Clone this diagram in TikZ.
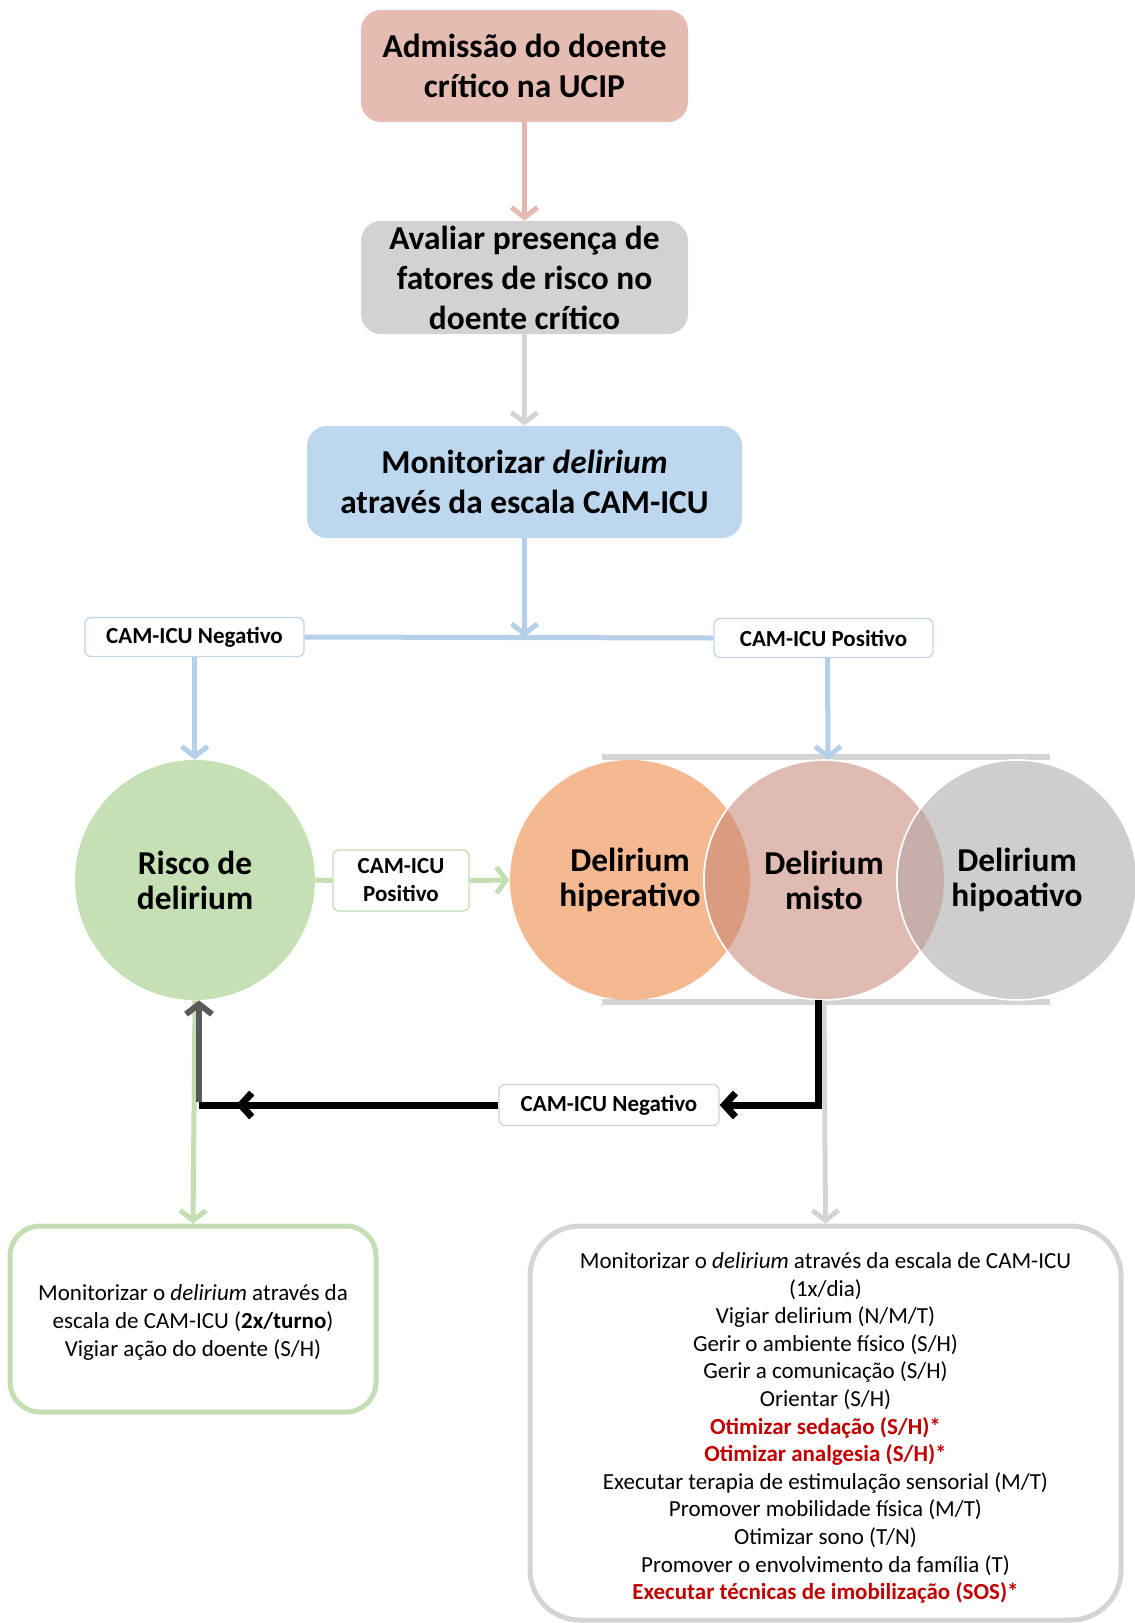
\documentclass[tikz,border=0pt]{standalone}
\usepackage{fontspec}
\setmainfont{Carlito}
\usetikzlibrary{arrows.meta}

\definecolor{admfill}{RGB}{229,188,178}
\definecolor{admline}{RGB}{228,184,174}
\definecolor{fatfill}{RGB}{210,210,210}
\definecolor{monfill}{RGB}{189,215,238}
\definecolor{blueline}{RGB}{182,208,234}
\definecolor{tagblue}{RGB}{195,214,234}
\definecolor{greenfill}{RGB}{197,224,180}
\definecolor{greenline}{RGB}{195,222,178}
\definecolor{hipercol}{RGB}{244,185,145}
\definecolor{mistocol}{RGB}{224,187,177}
\definecolor{hipocol}{RGB}{206,206,206}
\definecolor{lensa}{RGB}{218,155,128}
\definecolor{lensb}{RGB}{198,174,170}
\definecolor{grayline}{RGB}{212,212,212}
\definecolor{darkarrow}{RGB}{90,90,90}
\definecolor{alertred}{RGB}{192,0,0}

\tikzset{
  topbox/.style={rounded corners=10pt, minimum width=163.5pt, minimum height=56pt,
    inner sep=0pt, align=center, font=\fontsize{16.7}{20}\selectfont\bfseries},
  tag/.style={draw, rounded corners=3pt, fill=white, line width=0.7pt,
    minimum width=109.5pt, minimum height=19.5pt, inner sep=0pt, align=center,
    font=\fontsize{11.5}{14}\selectfont\bfseries},
  blob/.style={circle, minimum size=120pt, inner sep=0pt, align=center,
    font=\fontsize{16.7}{17.5}\selectfont\bfseries},
  carebox/.style={line width=2.5pt, fill=white, inner sep=0pt, align=center,
    font=\fontsize{11.5}{13.8}\selectfont},
  link/.style={line width=2.5pt, -{Straight Barb[length=5pt,width=13pt]}},
  blackline/.style={line width=3.5pt, black, -{Straight Barb[length=5.5pt,width=12pt]}},
}

\begin{document}
\begin{tikzpicture}[x=0.5pt,y=-0.5pt]

\useasboundingbox (0,0) rectangle (1135,1623) ;

\node[topbox,fill=admfill] (adm) at (524.5,66) {Admissão do doente\\crítico na UCIP} ;
\node[topbox,fill=fatfill,minimum height=56.5pt] (fat) at (524.5,277.5) {Avaliar presença de\\fatores de risco no\\doente crítico} ;
\node[topbox,fill=monfill,minimum width=217.5pt] (mon) at (524.5,482) {Monitorizar \textit{delirium}\\através da escala CAM-ICU} ;

\draw[link,admline] (adm) -- (fat) ;
\draw[link,grayline] (fat) -- (mon) ;

\coordinate (split) at (524.5,637) ;
\node[tag,draw=tagblue] (neg) at (194.5,637) {CAM-ICU Negativo} ;
\node[tag,draw=tagblue] (pos) at (823.5,638) {CAM-ICU Positivo} ;

\draw[line width=2.5pt,blueline] (neg.east) -- (pos.west) ;
\draw[link,blueline] (mon) -- (split) ;

% faixa cinzenta dos tipos de delirium
\draw[line width=3pt,grayline] (602,757) -- (1050,757) ;
\draw[line width=3pt,grayline] (602,1002) -- (1050,1002) ;

\fill[hipercol] (630,880) circle[radius=60pt] ;
\filldraw[fill=mistocol,draw=white,line width=0.8pt] (824,880) circle[radius=60pt] ;
\filldraw[fill=hipocol,draw=white,line width=0.8pt] (1017,880) circle[radius=60pt] ;
\begin{scope}
\clip (630,880) circle[radius=60pt] ;
\fill[lensa] (824,880) circle[radius=60pt] ;
\draw[white,line width=0.8pt] (824,880) circle[radius=60pt] ;
\end{scope}
\begin{scope}
\clip (824,880) circle[radius=60pt] ;
\fill[lensb] (1017,880) circle[radius=60pt] ;
\draw[white,line width=0.8pt] (1017,880) circle[radius=60pt] ;
\end{scope}

\node[blob] (hiper) at (630,880) {Delirium\\hiperativo} ;
\node[blob] (misto) at (824,880) {Delirium\\misto} ;
\node[blob] (hipo) at (1017,880) {Delirium\\hipoativo} ;
\node[blob,fill=greenfill] (rdel) at (195,880) {Risco de\\delirium} ;

\draw[link,blueline] (neg) -- (rdel) ;
\draw[link,blueline] ([xshift=2pt]pos.south) -- ([xshift=2pt]misto.north) ;

\node[tag,draw=greenline,minimum width=68pt,minimum height=30.5pt] (posm) at (401,880.5) {CAM-ICU\\Positivo} ;
\draw[line width=2.5pt,greenline] (rdel.east) -- (posm.west) ;
\draw[link,greenline] (posm.east) -- (hiper.west) ;

\node[carebox,draw=greenline,rounded corners=15pt,minimum width=183pt,minimum height=93pt] (careg) at (193,1319)
  {\rule{0pt}{11.5pt}Monitorizar o \textit{delirium} através da\\escala de CAM-ICU (\textbf{2x/turno})\\Vigiar ação do doente (S/H)} ;
\node[carebox,draw=grayline,rounded corners=25pt,minimum width=295.5pt,minimum height=197pt] (careb) at (825.5,1423)
  {\rule{0pt}{13pt}Monitorizar o \textit{delirium} através da escala de CAM-ICU\\(1x/dia)\\Vigiar delirium (N/M/T)\\Gerir o ambiente físico (S/H)\\
   Gerir a comunicação (S/H)\\Orientar (S/H)\\\textcolor{alertred}{\bfseries Otimizar sedação (S/H)*}\\
   \textcolor{alertred}{\bfseries Otimizar analgesia (S/H)*}\\Executar terapia de estimulação sensorial (M/T)\\
   Promover mobilidade física (M/T)\\Otimizar sono (T/N)\\Promover o envolvimento da família (T)\\
   \textcolor{alertred}{\bfseries Executar técnicas de imobilização (SOS)*}} ;

\draw[link,greenline] (rdel.south) -- (careg.north) ;
\draw[link,grayline] (misto.south) -- (careb.north) ;

\node[tag,draw=grayline,minimum width=110pt,minimum height=20.5pt] (negb) at (609,1105) {CAM-ICU Negativo} ;
\coordinate (back) at (199,1105) ;
\coordinate (tipl) at (236,1105) ;

\draw[blackline] ([xshift=-3pt]misto.south) -- ([xshift=-3pt]misto.south |- negb.east) -- (negb.east) ;
\draw[blackline,-] (negb.west) -- (back) ;
\draw[blackline] (negb.west) -- (tipl) ;
\draw[link,darkarrow,line width=3pt] ([yshift=1.5pt]back) -- (back |- rdel.south) ;

\end{tikzpicture}
\end{document}
